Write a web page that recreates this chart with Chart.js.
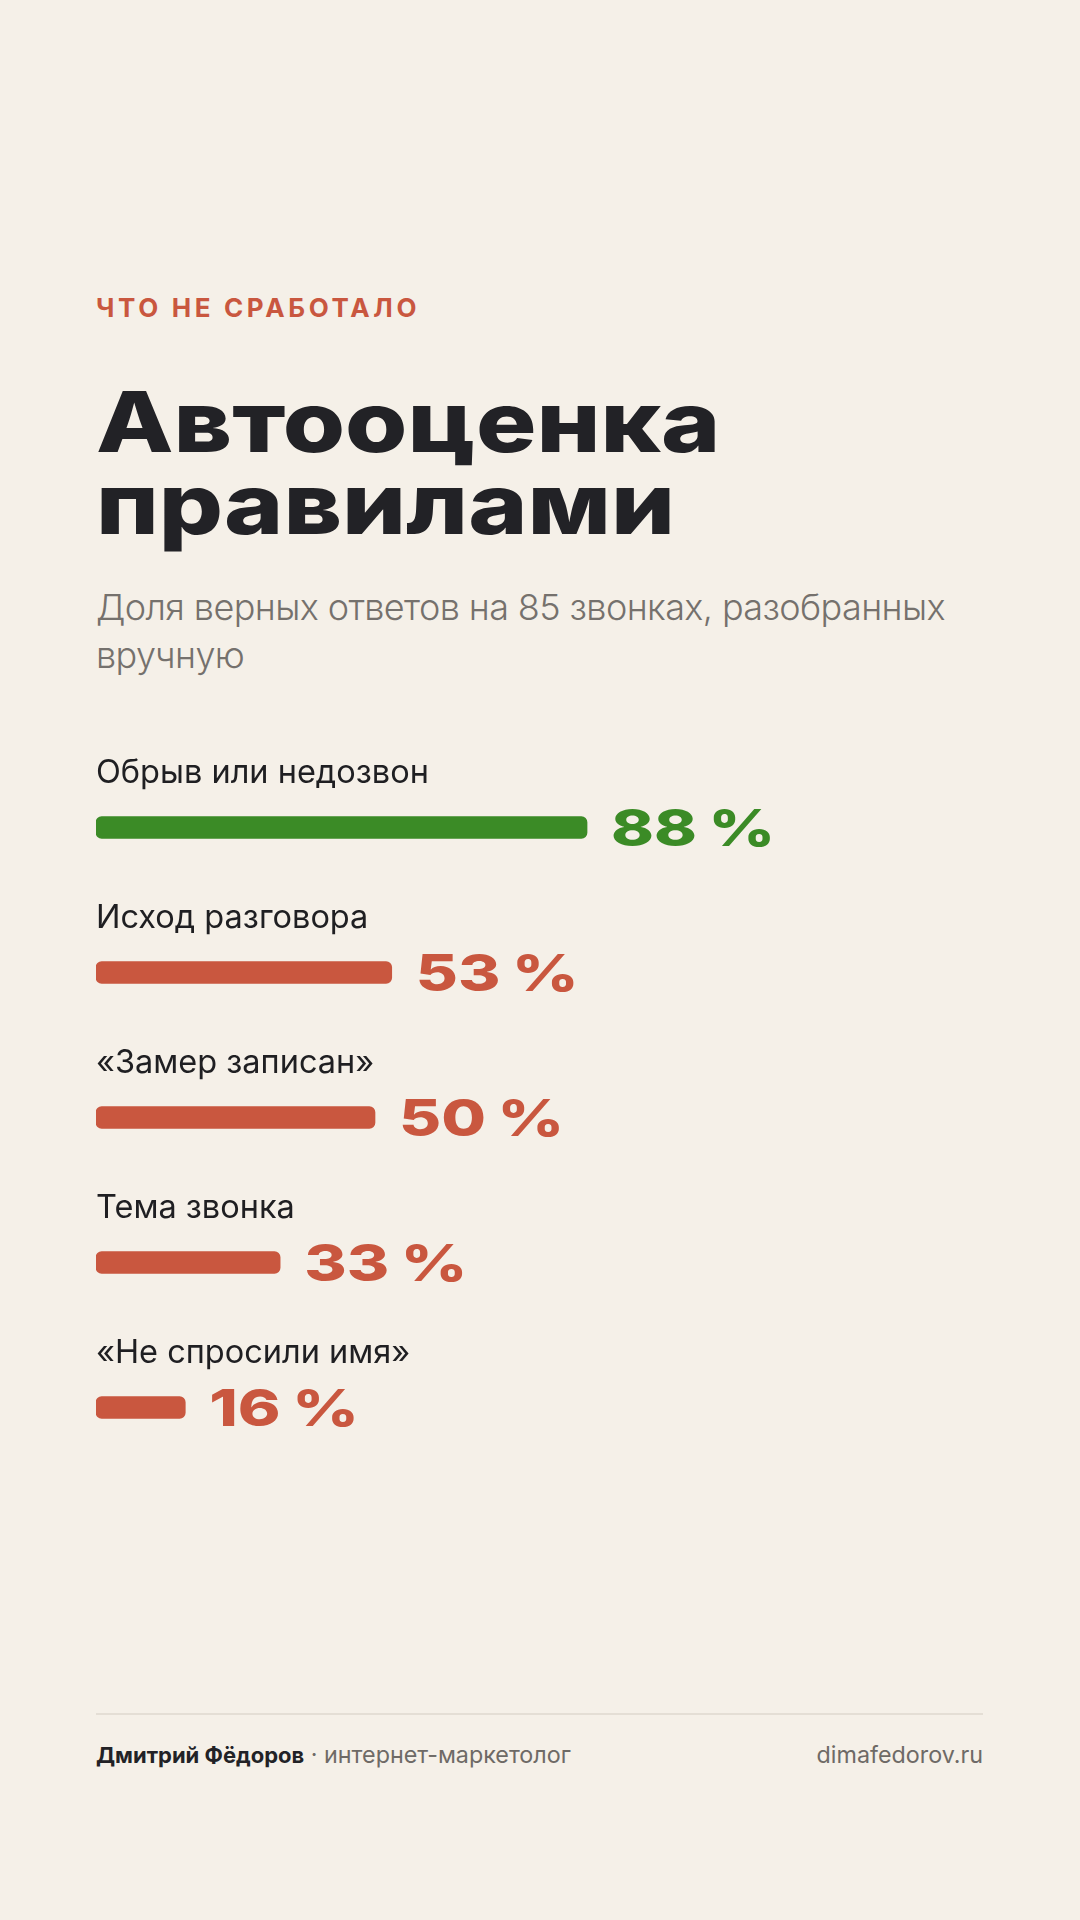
<!DOCTYPE html>
<html lang="ru">
<head>
<meta charset="utf-8">
<script src="https://cdn.jsdelivr.net/npm/chart.js@4/dist/chart.umd.min.js"></script>
<style>
  html, body { margin: 0; padding: 0; }
  body {
    width: 1080px; height: 1920px; position: relative; overflow: hidden;
    background: #f5f0e8; font-family: Inter, "Noto Sans", sans-serif;
  }
  .abs { position: absolute; left: 96px; white-space: nowrap; }
  #eyebrow {
    top: 295px; font-size: 26px; line-height: 26px; font-weight: 700;
    letter-spacing: 0.14em; color: #c9573f;
  }
  #title {
    top: 381px; font-size: 84px; line-height: 82px; font-weight: 800;
    color: #222226; transform: scaleX(1.2); transform-origin: left top;
  }
  #subtitle {
    top: 583px; font-size: 36px; line-height: 48px; font-weight: 300;
    letter-spacing: -0.6px; color: #75716d;
  }
  #chartBox { position: absolute; left: 96px; top: 755px; width: 886px; height: 725px; }
  #rule { position: absolute; left: 96px; top: 1713px; width: 887px; height: 2px; background: #e4ded5; }
  #footL { top: 1744px; font-size: 23.3px; line-height: 22px; color: #6e6a66; }
  #footL b { color: #222226; font-weight: 700; font-size: 22px; }
  #footR { position: absolute; right: 97px; top: 1744px; font-size: 23.3px; line-height: 22px; color: #6e6a66; }
</style>
</head>
<body>
<div id="eyebrow" class="abs">ЧТО НЕ СРАБОТАЛО</div>
<div id="title" class="abs">Автооценка<br>правилами</div>
<div id="subtitle" class="abs">Доля верных ответов на 85 звонках, разобранных<br>вручную</div>
<div id="chartBox"><canvas id="chart"></canvas></div>
<div id="rule"></div>
<div id="footL" class="abs"><b>Дмитрий Фёдоров</b> · интернет-маркетолог</div>
<div id="footR">dimafedorov.ru</div>

<script>
const categories = ["Обрыв или недозвон", "Исход разговора", "«Замер записан»", "Тема звонка", "«Не спросили имя»"];
const shares = [88, 53, 50, 33, 16];
const valueLabels = ["88", "53", "50", "33", "16"];
const valueSuffix = "%";
const barColors = ["#3b8b26", "#c9573f", "#c9573f", "#c9573f", "#c9573f"];

const rowLabels = {
  id: "rowLabels",
  afterDatasetsDraw(chart) {
    const { ctx, scales } = chart;
    const meta = chart.getDatasetMeta(0);
    ctx.save();
    meta.data.forEach((bar, i) => {
      const y = scales.y.getPixelForValue(i);
      // category name above the bar
      ctx.font = "400 32.5px Inter";
      ctx.fillStyle = "#1f1f22";
      ctx.textAlign = "left";
      ctx.textBaseline = "alphabetic";
      ctx.fillText(categories[i], scales.x.getPixelForValue(0), y - 45);
      // value to the right, stretched wide and heavy
      ctx.save();
      ctx.translate(bar.x + 24, y + 18);
      ctx.scale(1.27, 1);
      ctx.font = "800 51px Inter";
      ctx.fillStyle = barColors[i];
      ctx.fillText(valueLabels[i], 0, 0);
      const w = ctx.measureText(valueLabels[i]).width;
      ctx.fillText(valueSuffix, w + 9, 0);
      ctx.restore();
    });
    ctx.restore();
  },
};

new Chart(document.querySelector("#chart").getContext("2d"), {
  type: "bar",
  data: {
    labels: categories,
    datasets: [{
      data: shares,
      backgroundColor: barColors,
      barThickness: 22,
      borderRadius: 6,
      borderSkipped: false,
    }],
  },
  options: {
    indexAxis: "y",
    responsive: true,
    maintainAspectRatio: false,
    animation: false,
    layout: { padding: { left: 0, top: 0, bottom: 0, right: 328 } },
    plugins: { legend: { display: false }, tooltip: { enabled: false } },
    scales: {
      x: { display: false, min: 0, max: 100 },
      y: { display: false },
    },
  },
  plugins: [rowLabels],
});
</script>
</body>
</html>
